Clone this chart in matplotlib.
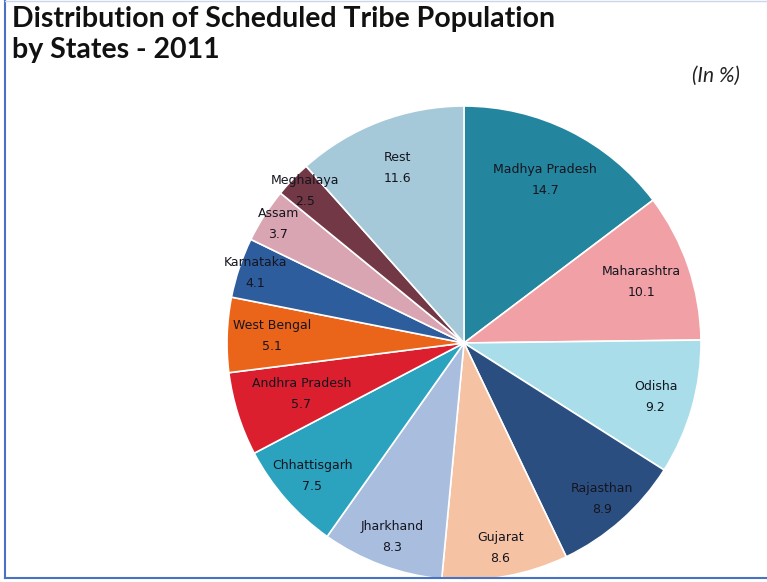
import matplotlib
matplotlib.use("Agg")
import matplotlib.pyplot as plt
import numpy as np
from matplotlib.lines import Line2D

states = ["Madhya Pradesh", "Maharashtra", "Odisha", "Rajasthan", "Gujarat",
          "Jharkhand", "Chhattisgarh", "Andhra Pradesh", "West Bengal",
          "Karnataka", "Assam", "Meghalaya", "Rest"]
shares = [14.7, 10.1, 9.2, 8.9, 8.6, 8.3, 7.5, 5.7, 5.1, 4.1, 3.7, 2.5, 11.6]
value_labels = ["14.7", "10.1", "9.2", "8.9", "8.6", "8.3", "7.5", "5.7",
                "5.1", "4.1", "3.7", "2.5", "11.6"]

colors = ["#23869E", "#F1A1A6", "#A8DDE9", "#2B4E80", "#F6C2A4", "#A9BDDF",
          "#2BA3BE", "#DC1F2E", "#EA6519", "#2E5D9E", "#D9A5B2", "#733845",
          "#A5C9D9"]
label_radius = [0.77, 0.79, 0.84, 0.88, 0.88, 0.875, 0.85, 0.72, 0.81,
                0.93, 0.93, 0.93, 0.79]

W, H = 767, 582
fig = plt.figure(figsize=(W / 100, H / 100), dpi=100)
fig.patch.set_facecolor("white")

cx, cy, r = 464, 343, 237
ax = fig.add_axes([(cx - r) / W, (H - cy - r) / H, 2 * r / W, 2 * r / H])
wedges, _ = ax.pie(shares, colors=colors, startangle=90, counterclock=False,
                   radius=1.0, wedgeprops=dict(edgecolor="white", linewidth=1.2))
ax.set_xlim(-1, 1)
ax.set_ylim(-1, 1)
ax.set_aspect("equal")
ax.axis("off")

for w, name, val, lr in zip(wedges, states, value_labels, label_radius):
    ang = np.deg2rad((w.theta1 + w.theta2) / 2)
    x, y = lr * np.cos(ang), lr * np.sin(ang)
    ax.text(x, y, f"{name}\n{val}", ha="center", va="center", fontsize=9,
            color="#15151f", linespacing=1.8, family="DejaVu Sans")

fig.text(12 / W, 1 - 6 / H, "Distribution of Scheduled Tribe Population\nby States - 2011",
         ha="left", va="top", fontsize=20.5, fontweight="bold",
         family="Lato", color="#111111", linespacing=1.25)
fig.text(740 / W, 1 - 76 / H, "(In %)", ha="right", va="center", fontsize=15,
         style="italic", family="Lato", color="#222222")

border = "#4A72C4"
fig.add_artist(Line2D([5 / W, 5 / W], [1, 1 - 578 / H], transform=fig.transFigure,
                      color=border, linewidth=1.5))
fig.add_artist(Line2D([5 / W, 1], [1 - 578 / H, 1 - 578 / H], transform=fig.transFigure,
                      color=border, linewidth=1.5))
fig.add_artist(Line2D([5 / W, 1], [1 - 1 / H, 1 - 1 / H], transform=fig.transFigure,
                      color="#C9D6EE", linewidth=1.0))

fig.savefig("out.png", dpi=100)
